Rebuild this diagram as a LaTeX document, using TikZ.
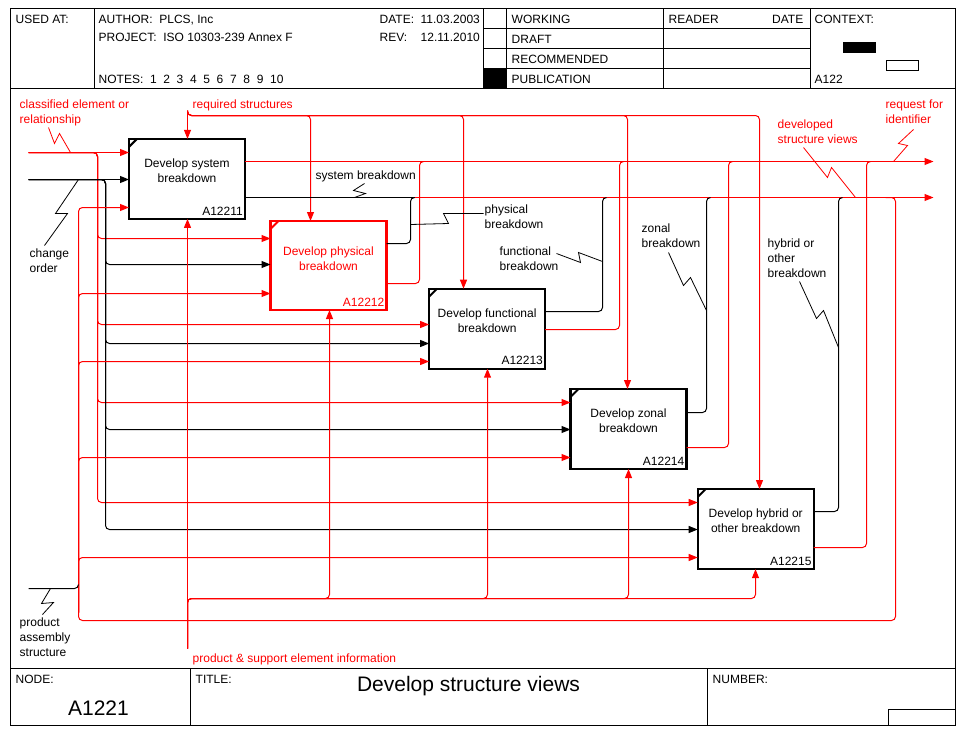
\documentclass[tikz,border=0pt]{standalone}
\usepackage{fontspec}
\setmainfont{Liberation Sans}
\usetikzlibrary{arrows.meta}

\tikzset{
  frame/.style={line width=1pt},
  actbox/.style={draw, line width=2.4pt, minimum width=116pt, minimum height=80pt, outer sep=0pt, inner sep=0pt},
  flow/.style={line width=1pt, rounded corners=4pt},
  redflow/.style={flow, red},
  tip/.style={-{Triangle[length=9pt,width=7pt]}},
  squig/.style={line width=0.8pt},
  txt/.style={font=\fontsize{12}{15}\selectfont, inner sep=0pt, anchor=base west, align=left},
  bigtxt/.style={font=\fontsize{21}{25}\selectfont, inner sep=0pt, anchor=base},
  boxtitle/.style={font=\fontsize{12}{15}\selectfont, inner sep=0pt, align=center},
  boxnum/.style={font=\fontsize{12}{15}\selectfont, inner xsep=2pt, inner ysep=3.5pt, anchor=south east},
}

\begin{document}
\begin{tikzpicture}[x=1pt,y=-1pt]
    \useasboundingbox (0,0) rectangle (961,731);
  \begin{scope}[shift={(0.5,0.5)}]

    \begin{scope}
        \draw[frame] (10,8) rectangle (955,725);
        \draw[frame] (10,88) -- (955,88);
        \draw[frame] (10,668) -- (955,668);
        \foreach \x in {94,483,506,663,810} \draw[frame] (\x,8) -- (\x,88);
        \foreach \y in {28,48,68} \draw[frame] (483,\y) -- (810,\y);
        \fill (483,68) rectangle (506,88);
        \fill (842,41) rectangle (875,52);
        \draw[frame] (886,60) rectangle (918,70);
        \foreach \x in {190,707} \draw[frame] (\x,668) -- (\x,725);
        \draw[frame] (888,709) rectangle (955,725);

        \node[txt] (usedat) at (15,23) {USED AT:};
        \node[txt] (author) at (98,23) {AUTHOR:\ \ PLCS, Inc};
        \node[txt] (project) at (98,41) {PROJECT:\ \ ISO 10303-239 Annex F};
        \node[txt] (notes) at (98,83) {NOTES:\ \ 1\ \ 2\ \ 3\ \ 4\ \ 5\ \ 6\ \ 7\ \ 8\ \ 9\ \ 10};
        \node[txt] (date) at (379,23) {DATE:};
        \node[txt] (datev) at (420,23) {11.03.2003};
        \node[txt] (rev) at (379,41) {REV:};
        \node[txt] (revv) at (420,41) {12.11.2010};
        \node[txt] (working) at (511,23) {WORKING};
        \node[txt] (draft) at (511,43) {DRAFT};
        \node[txt] (recom) at (511,63) {RECOMMENDED};
        \node[txt] (publ) at (511,83) {PUBLICATION};
        \node[txt] (reader) at (668,23) {READER};
        \node[txt, anchor=base east] (rdate) at (803,23) {DATE};
        \node[txt] (context) at (814,23) {CONTEXT:};
        \node[txt] (ctxnum) at (814,83) {A122};

        \node[txt] (nodelbl) at (15,683) {NODE:};
        \node[bigtxt] (nodenum) at (98,715) {A1221};
        \node[txt] (titlelbl) at (195,683) {TITLE:};
        \node[bigtxt] (title) at (468,691) {Develop structure views};
        \node[txt] (numberlbl) at (712,683) {NUMBER:};
    \end{scope}

    \node[actbox] (b1) at (186.5,178.4) {};
    \node[actbox, red, minimum height=89pt] (b2) at (328,265) {};
    \node[actbox] (b3) at (486.6,328.2) {};
    \node[actbox] (b4) at (628,428.5) {};
    \node[actbox] (b5) at (755.2,528.6) {};

    \node[boxtitle] (b1t) at ([yshift=8pt]b1.center) {Develop system\\breakdown};
    \node[boxtitle, red] (b2t) at ([yshift=7pt]b2.center) {Develop physical\\breakdown};
    \node[boxtitle] (b3t) at ([yshift=8pt]b3.center) {Develop functional\\breakdown};
    \node[boxtitle] (b4t) at ([yshift=8pt]b4.center) {Develop zonal\\breakdown};
    \node[boxtitle] (b5t) at ([yshift=8pt]b5.center) {Develop hybrid or\\other breakdown};
    \node[boxnum] (b1n) at (b1.south east) {A12211};
    \node[boxnum, red] (b2n) at (b2.south east) {A12212};
    \node[boxnum] (b3n) at (b3.south east) {A12213};
    \node[boxnum] (b4n) at (b4.south east) {A12214};
    \node[boxnum] (b5n) at (b5.south east) {A12215};
    \foreach \b/\c in {b1/black,b2/red,b3/black,b4/black,b5/black}
        \draw[\c, line width=2pt] ([yshift=-8pt]\b.north west) -- ([xshift=8pt]\b.north west);

    \coordinate (cls) at (28,152);
    \coordinate (chg) at (28,179);
    \coordinate (pas) at (28,588);
    \coordinate (reqs) at (187,110);
    \coordinate (pse) at (187,648);
    \coordinate (rid) at (933,161);
    \coordinate (dsv) at (933,197);
    \coordinate (jn1) at (414,197);
    \coordinate (dsvfork) at (885,197);
    \coordinate (loop) at (895,620);
    \coordinate (pas1) at (78,207);
    \coordinate (pasbot) at (78,612);
    \coordinate (pasjoin) at (78,584);

    \draw[redflow,tip] (cls) -- (cls -| b1.west);
    \draw[flow,tip] (chg) -- (chg -| b1.west);
    \foreach \b/\y in {b2/238,b3/324,b4/402,b5/502}{
        \coordinate (cls-\b) at (97,\y);
        \draw[redflow,tip] (cls) -| (cls-\b) -- (cls-\b -| \b.west);
    }
    \foreach \b/\y in {b2/264,b3/343,b4/429,b5/529}{
        \coordinate (chg-\b) at (105,\y);
        \draw[flow,tip] (chg) -| (chg-\b) -- (chg-\b -| \b.west);
    }

    \draw[redflow,tip] (dsvfork) -| (loop) -| (pas1) -- (pas1 -| b1.west);
    \foreach \b/\y in {b2/293,b3/361,b4/457,b5/557}{
        \coordinate (pas-\b) at (78,\y);
        \draw[redflow,tip] (pasbot) -- (pas-\b) -- (pas-\b -| \b.west);
    }
    \draw[flow] (pas) -| (pasjoin);

    \draw[redflow,tip] (reqs) -- (reqs |- b1.north);
    \foreach \b/\x in {b2/310,b3/463,b4/627,b5/759}{
        \coordinate (req-\b) at (\x,115);
        \draw[redflow,tip] (reqs) |- (req-\b) -- (req-\b |- \b.north);
    }
    \draw[redflow,tip] (pse) -- (pse |- b1.south);
    \foreach \b/\x in {b2/329,b3/487,b4/628,b5/755}{
        \coordinate (mech-\b) at (\x,598);
        \draw[redflow,tip] (pse) |- (mech-\b) -- (mech-\b |- \b.south);
    }

    \draw[redflow,tip] (rid -| b1.east) -- (rid);
    \draw[flow] (jn1 -| b1.east) -- (jn1);
    \draw[redflow,tip] (jn1) -- (dsv);
    \foreach \b/\y/\x in {b2/243/410,b3/311/602,b4/412/706,b5/511/838}{
        \coordinate (brk-\b) at (\x,\y);
        \draw[flow] (brk-\b -| \b.east) -| (brk-\b |- dsv) -- ++(4,0);
    }
    \foreach \b/\y/\x in {b2/283/419,b3/329/619,b4/447/728,b5/547/866}{
        \coordinate (idr-\b) at (\x,\y);
        \draw[redflow] (idr-\b -| \b.east) -| (idr-\b |- rid) -- ++(4,0);
    }

    \node[txt,red] (lcls) at (19,123) {classified element or\\relationship};
    \node[txt,red] (lreq) at (192,108) {required structures};
    \node[txt] (lchg) at (29,272) {change\\order};
    \node[txt] (lsys) at (315,179) {system breakdown};
    \node[txt] (lphy) at (484,228) {physical\\breakdown};
    \node[txt] (lfun) at (499,270) {functional\\breakdown};
    \node[txt] (lzon) at (641,247) {zonal\\breakdown};
    \node[txt] (lhyb) at (767,277) {hybrid or\\other\\breakdown};
    \node[txt,red] (ldsv) at (777,143) {developed\\structure views};
    \node[txt,red] (lrid) at (885,123) {request for\\identifier};
    \node[txt] (lpas) at (19,656) {product\\assembly\\structure};
    \node[txt,red] (lpse) at (192,662) {product \& support element information};

    \draw[squig,red] (48,127) -- (54,143) -- (59,133) -- (70,152);
    \draw[squig] (78,179) -- (55,213) -- (67,213) -- (44,245);
    \draw[squig] (364,183) -- (353,190) -- (365,193) -- (354,197);
    \draw[squig] (483,213) -- (443,213) -- (448,223) -- (410,224);
    \draw[squig] (556,253) -- (580,262) -- (578,252) -- (602,261);
    \draw[squig] (668,252) -- (683,285) -- (690,277) -- (706,310);
    \draw[squig] (799,281) -- (816,318) -- (823,310) -- (838,347);
    \draw[squig,red] (803,147) -- (827,177) -- (831,167) -- (855,197);
    \draw[squig,red] (913,129) -- (898,143) -- (907,145) -- (893,161);
    \draw[squig] (50,588) -- (41,603) -- (53,602) -- (42,614);

  \end{scope}
\end{tikzpicture}
\end{document}
